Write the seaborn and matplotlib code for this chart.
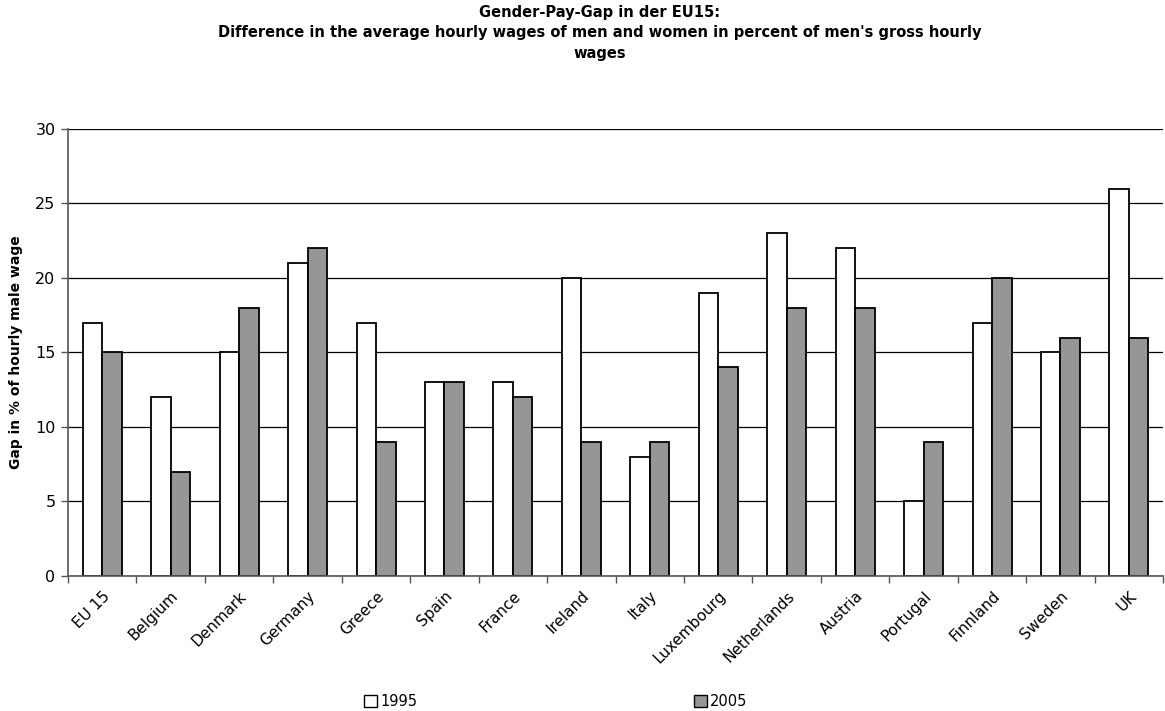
import numpy as np
import pandas as pd
import matplotlib
matplotlib.use("Agg")
import matplotlib.pyplot as plt
import seaborn as sns
from matplotlib.ticker import FixedLocator

countries = ["EU 15", "Belgium", "Denmark", "Germany", "Greece", "Spain", "France",
             "Ireland", "Italy", "Luxembourg", "Netherlands", "Austria", "Portugal",
             "Finnland", "Sweden", "UK"]
gap_1995 = [17, 12, 15, 21, 17, 13, 13, 20, 8, 19, 23, 22, 5, 17, 15, 26]
gap_2005 = [15, 7, 18, 22, 9, 13, 12, 9, 9, 14, 18, 18, 9, 20, 16, 16]
years = ["1995", "2005"]

df = pd.DataFrame({
    "country": countries * 2,
    "year": [years[0]] * len(countries) + [years[1]] * len(countries),
    "gap": gap_1995 + gap_2005,
})

sns.set_style("white")
plt.rcParams["font.family"] = ["DejaVu Sans"]
plt.rcParams["text.color"] = "black"
plt.rcParams["axes.labelcolor"] = "black"
plt.rcParams["xtick.color"] = "black"
plt.rcParams["ytick.color"] = "black"

fig = plt.figure(figsize=(11.65, 7.11), dpi=100)
ax = fig.add_axes([0.0584, 0.19, 0.94, 0.6286])

sns.barplot(data=df, x="country", y="gap", hue="year", order=countries,
            hue_order=years, palette={"1995": "#ffffff", "2005": "#969696"},
            edgecolor="black", linewidth=1.3, width=0.57, saturation=1,
            ax=ax, legend=False)

ax.set_ylim(0, 30)
ax.set_xlim(-0.5, len(countries) - 0.5)
ax.set_yticks(np.arange(0, 31, 5))
ax.yaxis.grid(True, color="black", linewidth=0.9)
ax.set_axisbelow(True)
for s in ["top", "right"]:
    ax.spines[s].set_visible(False)
for s in ["left", "bottom"]:
    ax.spines[s].set_color("#555555")
    ax.spines[s].set_linewidth(1.2)

ax.tick_params(axis="y", direction="out", length=5, width=1, color="#555555",
               labelsize=11.5, left=True, pad=4)
ax.tick_params(axis="x", which="major", length=0, labelsize=11, pad=9)
ax.xaxis.set_minor_locator(FixedLocator(np.arange(-0.5, len(countries), 1.0)))
ax.tick_params(axis="x", which="minor", direction="out", length=5, width=1,
               color="#555555", bottom=True)
plt.setp(ax.get_xticklabels(), rotation=45, ha="right", rotation_mode="anchor")

ax.set_xlabel("")
ax.set_ylabel("Gap in % of hourly male wage", fontsize=10, fontweight="bold", labelpad=9)

fig.suptitle("Gender-Pay-Gap in der EU15:\n"
             "Difference in the average hourly wages of men and women in percent of men's gross hourly\n"
             "wages", fontsize=10.5, fontweight="bold", y=0.993, x=0.515, linespacing=1.45)

handles = [plt.Rectangle((0, 0), 1, 1, facecolor="#ffffff", edgecolor="black", linewidth=1),
           plt.Rectangle((0, 0), 1, 1, facecolor="#969696", edgecolor="black", linewidth=1)]
fig.legend(handles, years, loc="lower center", bbox_to_anchor=(0.477, -0.016), ncol=2,
           frameon=False, fontsize=10.5, handlelength=0.9, handleheight=0.9,
           handletextpad=0.2, columnspacing=19)

fig.savefig("out.png", dpi=100)
